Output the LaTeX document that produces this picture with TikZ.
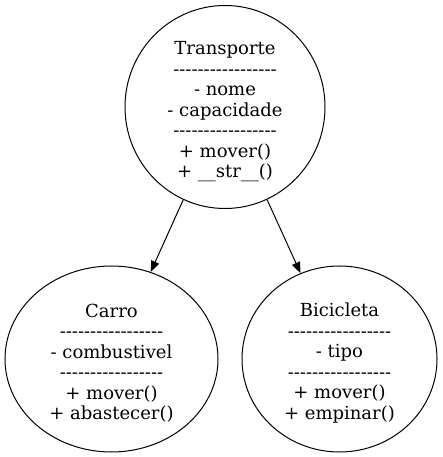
\documentclass[tikz,border=0pt]{standalone}
\usepackage{fontspec}
\newfontfamily\gvfont{DejaVu Serif}
\usetikzlibrary{shapes.geometric,arrows.meta}
\begin{document}
\begin{tikzpicture}[x=1pt,y=1pt,
  cls/.style={ellipse,draw,line width=1pt,inner sep=0pt},
  txt/.style={inner sep=0pt,align=center,
    font=\gvfont\fontsize{18}{20.5}\selectfont},
  inh/.style={line width=1pt,-{Triangle[length=11pt,width=8.5pt]}}]
\useasboundingbox (0,0) rectangle (442,457);
\newcommand\dl{-{}-{}-{}-{}-{}-{}-{}-{}-{}-{}-{}-{}-{}-{}-{}-{}-}
\node[cls,minimum width=200pt,minimum height=203pt] (t) at (225,350) {};
\node[txt] (tt) at ([yshift=-5pt]t.center)
  {Transporte\\\dl\\- nome\\- capacidade\\\dl\\+ mover()\\+ \_\_str\_\_()};
\node[cls,minimum width=213pt,minimum height=186pt] (c) at (111.5,98) {};
\node[txt] (ct) at ([yshift=-4pt]c.center)
  {Carro\\\dl\\- combustivel\\\dl\\+ mover()\\+ abastecer()};
\node[cls,minimum width=195pt,minimum height=186pt] (b) at (339.5,98) {};
\node[txt] (bt) at ([yshift=-4pt]b.center)
  {Bicicleta\\\dl\\- tipo\\\dl\\+ mover()\\+ empinar()};
\draw[inh] (t) -- (c);
\draw[inh] (t) -- (b);
\end{tikzpicture}
\end{document}
